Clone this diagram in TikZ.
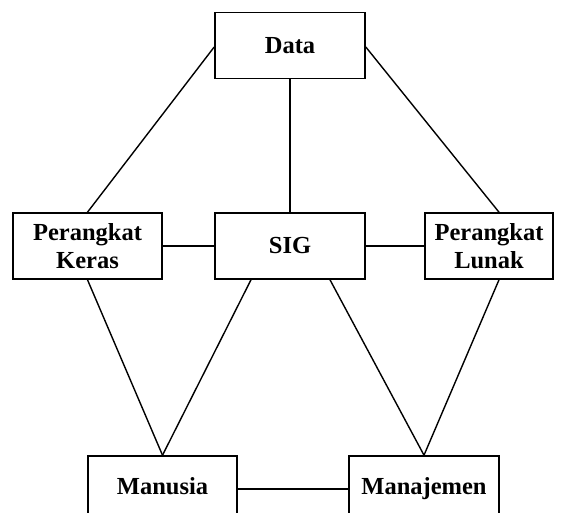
\documentclass[tikz,border=0pt]{standalone}
\usepackage{fontspec}
\setmainfont{Liberation Serif}
\usepackage{tikz}
\usetikzlibrary{positioning}
\tikzset{
  node-box/.style={draw,line width=1.6pt,minimum height=66pt,minimum width=150pt,
    align=center,inner sep=0pt,font=\fontsize{24.5}{27.5}\selectfont\bfseries},
  node-line/.style={text height=17pt,text depth=6pt},
  link/.style={line width=1.4pt},
}
\begin{document}
\begin{tikzpicture}[x=1pt,y=-1pt]
  \clip (0,0) rectangle (563,513);
  \node[node-box]                       (data) at (290,45.5)  {Data};
  \node[node-box]                       (sig)  at (290,246)   {SIG};
  \node[node-box,minimum width=149pt]   (hw)   at (87.5,246)  {Perangkat\\Keras};
  \node[node-box,minimum width=128pt]   (sw)   at (489,246)   {Perangkat\\Lunak};
  \node[node-box,node-line,minimum width=149pt] (man) at (162.5,489) {Manusia};
  \node[node-box,node-line]             (mgt)  at (424,489)   {Manajemen};
  \draw[link] ([yshift=-1.5pt]data.west) -- (hw.north);
  \draw[link] (data.south) -- (sig.north);
  \draw[link] ([yshift=-1.5pt]data.east) -- ([xshift=10pt]sw.north);
  \draw[link] (hw.east) -- (sig.west);
  \draw[link] (sig.east) -- (sw.west);
  \draw[link] (hw.south) -- (man.north);
  \draw[link] ([xshift=-39pt]sig.south) -- (man.north);
  \draw[link] ([xshift=40pt]sig.south) -- (mgt.north);
  \draw[link] ([xshift=10pt]sw.south) -- (mgt.north);
  \draw[link] (man.east) -- (mgt.west);
\end{tikzpicture}
\end{document}
